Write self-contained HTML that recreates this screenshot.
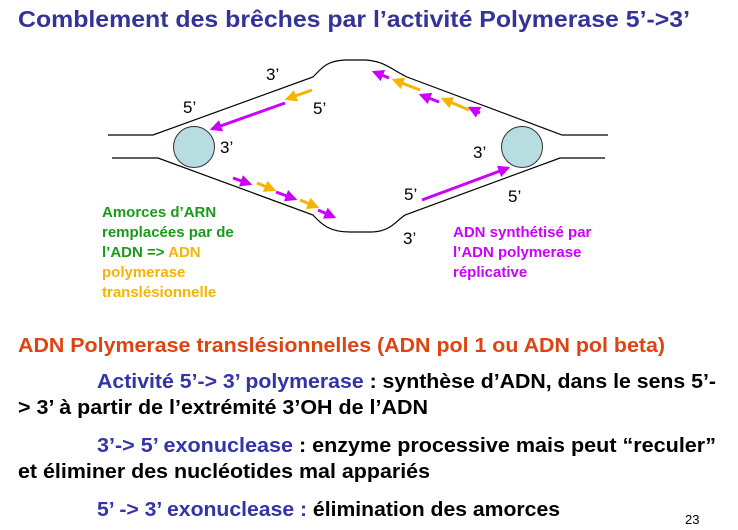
<!DOCTYPE html>
<html><head><meta charset="utf-8"><style>
html,body{margin:0;padding:0;background:#fff;}
svg{display:block;}
text{font-family:"Liberation Sans Narrow","Liberation Sans",sans-serif;font-weight:bold;}
</style></head><body>
<svg width="738" height="530" viewBox="0 0 738 530" xmlns="http://www.w3.org/2000/svg">
<defs>
<marker id="m" viewBox="0 0 10 10" refX="8" refY="5" markerWidth="4" markerHeight="4" orient="auto"><path d="M0,0 L10,5 L0,10 z" fill="#cc00ff"/></marker>
<marker id="y" viewBox="0 0 10 10" refX="8" refY="5" markerWidth="4" markerHeight="4" orient="auto"><path d="M0,0 L10,5 L0,10 z" fill="#f5b400"/></marker>
</defs>
<text x="18" y="27" font-size="23" fill="#333399" textLength="672" lengthAdjust="spacingAndGlyphs">Comblement des brêches par l’activité Polymerase 5’-&gt;3’</text>

<g fill="none" stroke="#000" stroke-width="1.2">
<path d="M108,135 H153 L313,77 C322,68 326,61 345,60 L365,60 C385,61 392,70 407,77 L562,135 H608"/>
<path d="M112,158 H158 L313,215 C322,225 330,232 350,232 L370,232 C390,232 395,222 405,215 L560,158 H605"/>
</g>
<circle cx="194" cy="147" r="20.5" fill="#b8dde0" stroke="#333" stroke-width="1"/>
<circle cx="522" cy="147" r="20.5" fill="#b8dde0" stroke="#333" stroke-width="1"/>

<g stroke-width="3" fill="none">
<line x1="312" y1="90" x2="287" y2="99" stroke="#f5b400" marker-end="url(#y)"/>
<line x1="285" y1="103" x2="212" y2="129" stroke="#cc00ff" marker-end="url(#m)"/>
<line x1="389" y1="78" x2="374" y2="72" stroke="#cc00ff" marker-end="url(#m)"/>
<line x1="420" y1="90" x2="394" y2="80" stroke="#f5b400" marker-end="url(#y)"/>
<line x1="439" y1="102" x2="421" y2="95" stroke="#cc00ff" marker-end="url(#m)"/>
<line x1="469" y1="110" x2="443" y2="99" stroke="#f5b400" marker-end="url(#y)"/>
<line x1="480" y1="113" x2="470" y2="108" stroke="#cc00ff" marker-end="url(#m)"/>
<line x1="233" y1="178" x2="250" y2="184" stroke="#cc00ff" marker-end="url(#m)"/>
<line x1="257" y1="183" x2="274" y2="190" stroke="#f5b400" marker-end="url(#y)"/>
<line x1="276" y1="192" x2="295" y2="199" stroke="#cc00ff" marker-end="url(#m)"/>
<line x1="300" y1="200" x2="317" y2="207" stroke="#f5b400" marker-end="url(#y)"/>
<line x1="318" y1="210" x2="334" y2="217" stroke="#cc00ff" marker-end="url(#m)"/>
<line x1="422" y1="200" x2="508" y2="168" stroke="#cc00ff" marker-end="url(#m)"/>
</g>

<g font-size="17" fill="#000">
<text x="266" y="80" style="font-weight:normal">3’</text>
<text x="183" y="113" style="font-weight:normal">5’</text>
<text x="313" y="114" style="font-weight:normal">5’</text>
<text x="220" y="153" style="font-weight:normal">3’</text>
<text x="473" y="158" style="font-weight:normal">3’</text>
<text x="404" y="200" style="font-weight:normal">5’</text>
<text x="508" y="202" style="font-weight:normal">5’</text>
<text x="403" y="244" style="font-weight:normal">3’</text>
</g>

<g font-size="15">
<text x="102" y="217" fill="#1a9a1a">Amorces d’ARN</text>
<text x="102" y="237" fill="#1a9a1a">remplacées par de</text>
<text x="102" y="257" fill="#1a9a1a">l’ADN =&gt; <tspan fill="#f5b400">ADN</tspan></text>
<text x="102" y="277" fill="#f5b400">polymerase</text>
<text x="102" y="297" fill="#f5b400">translésionnelle</text>
<text x="453" y="237" fill="#cc00ff">ADN synthétisé par</text>
<text x="453" y="257" fill="#cc00ff">l’ADN polymerase</text>
<text x="453" y="277" fill="#cc00ff">réplicative</text>
</g>

<g font-size="20">
<text x="18" y="352" fill="#dd4411" textLength="647" lengthAdjust="spacingAndGlyphs">ADN Polymerase translésionnelles (ADN pol 1 ou ADN pol beta)</text>
<text x="97" y="388" fill="#000" textLength="619" lengthAdjust="spacingAndGlyphs"><tspan fill="#3333aa">Activité 5’-&gt; 3’ polymerase</tspan> : synthèse d’ADN, dans le sens 5’-</text>
<text x="18" y="414" fill="#000" textLength="410" lengthAdjust="spacingAndGlyphs">&gt; 3’ à partir de l’extrémité 3’OH de l’ADN</text>
<text x="97" y="452" fill="#000" textLength="619" lengthAdjust="spacingAndGlyphs"><tspan fill="#3333aa">3’-&gt; 5’ exonuclease</tspan> : enzyme processive mais peut “reculer”</text>
<text x="18" y="478" fill="#000" textLength="412" lengthAdjust="spacingAndGlyphs">et éliminer des nucléotides mal appariés</text>
<text x="97" y="516" fill="#000" textLength="463" lengthAdjust="spacingAndGlyphs"><tspan fill="#3333aa">5’ -&gt; 3’ exonuclease :</tspan> élimination des amorces</text>
</g>
<text x="685" y="524" font-size="13" fill="#000" style="font-weight:normal">23</text>
</svg>
</body></html>
